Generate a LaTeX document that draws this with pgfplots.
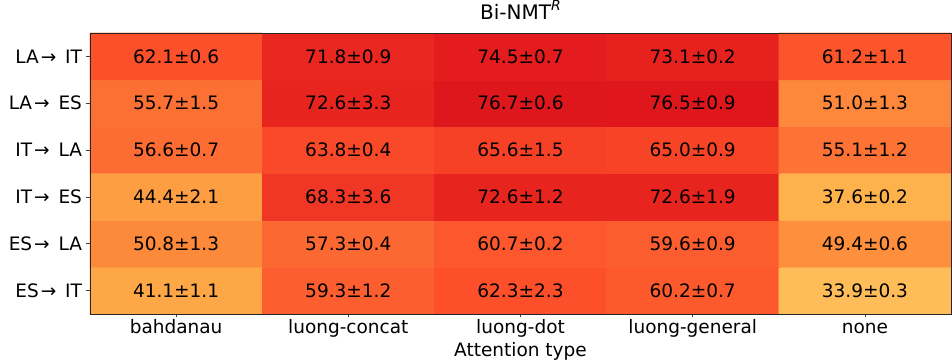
\documentclass[border=0pt]{standalone}
\usepackage{fontspec}
\setmainfont{DejaVu Sans}
\usepackage{pgfplots}
\usepackage{pgfplotstable}
\pgfplotsset{compat=1.18}
\newcommand\ar{\kern2bp→\kern3bp\ }

% x = attention type (0..4), y = 5 - row index
\pgfplotstableread{
x y v lab
0 0 41.1 41.1±1.1
1 0 59.3 59.3±1.2
2 0 62.3 62.3±2.3
3 0 60.2 60.2±0.7
4 0 33.9 33.9±0.3
0 1 50.8 50.8±1.3
1 1 57.3 57.3±0.4
2 1 60.7 60.7±0.2
3 1 59.6 59.6±0.9
4 1 49.4 49.4±0.6
0 2 44.4 44.4±2.1
1 2 68.3 68.3±3.6
2 2 72.6 72.6±1.2
3 2 72.6 72.6±1.9
4 2 37.6 37.6±0.2
0 3 56.6 56.6±0.7
1 3 63.8 63.8±0.4
2 3 65.6 65.6±1.5
3 3 65.0 65.0±0.9
4 3 55.1 55.1±1.2
0 4 55.7 55.7±1.5
1 4 72.6 72.6±3.3
2 4 76.7 76.7±0.6
3 4 76.5 76.5±0.9
4 4 51.0 51.0±1.3
0 5 62.1 62.1±0.6
1 5 71.8 71.8±0.9
2 5 74.5 74.5±0.7
3 5 73.1 73.1±0.2
4 5 61.2 61.2±1.1
}\datatable

\begin{document}
\begin{tikzpicture}
\begin{axis}[
  name=ax,
  width=861bp, height=281bp, scale only axis,
  xmin=-0.5, xmax=4.5, ymin=-0.5, ymax=5.5,
  enlargelimits=false,
  axis on top,
  colormap={ylorrd}{rgb255=(255,255,204) rgb255=(255,237,160) rgb255=(254,217,118) rgb255=(254,178,76) rgb255=(253,141,60) rgb255=(252,78,42) rgb255=(227,26,28) rgb255=(189,0,38) rgb255=(128,0,38)},
  point meta min=0, point meta max=100,
  xtick={0,1,2,3,4},
  xticklabels={bahdanau,luong-concat,luong-dot,luong-general,none},
  ytick={0,1,2,3,4,5},
  yticklabels={{ES\ar IT},{ES\ar LA},{IT\ar ES},{IT\ar LA},{LA\ar ES},{LA\ar IT}},
  tick pos=left,
  tick align=outside,
  major tick length=3.5bp,
  tick style={black!75, line width=0.8bp},
  axis line style={black!85, line width=0.8bp},
  ticklabel style={font=\fontsize{18.5bp}{22bp}\selectfont},
  yticklabel style={anchor=east, xshift=-1bp},
  xticklabel style={anchor=base, yshift=-16bp},
  title={Bi-NMT\raisebox{0.42em}{\fontsize{14bp}{14bp}\selectfont\itshape R}},
  title style={at={(axis description cs:0.5,1)}, anchor=base, yshift=8bp, font=\fontsize{20bp}{24bp}\selectfont},
  xlabel={Attention type},
  xlabel style={at={(axis description cs:0.5,0)}, anchor=base, yshift=-43bp, font=\fontsize{18.5bp}{22bp}\selectfont},
]
\addplot[matrix plot*, mesh/cols=5, point meta=explicit] table[x=x, y=y, meta=v] {\datatable};
\addplot[draw=none, mark=none, nodes near coords={\pgfplotspointmeta},
  point meta=explicit symbolic, nodes near coords align=center,
  every node near coord/.append style={font=\fontsize{18.5bp}{22bp}\selectfont, text=black, inner sep=0pt}]
  table[x=x, y=y, meta=lab] {\datatable};
\end{axis}
\pgfresetboundingbox
\path[use as bounding box] ([xshift=-90bp,yshift=-47bp]ax.south west) rectangle ([xshift=1bp,yshift=33bp]ax.north east);
\end{tikzpicture}
\end{document}
